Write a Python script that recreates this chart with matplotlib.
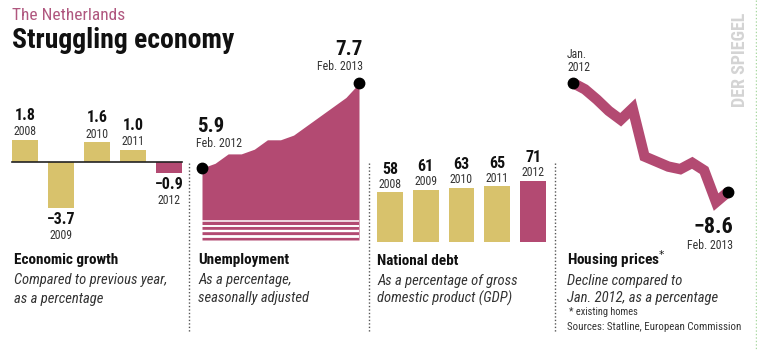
import matplotlib
matplotlib.use("Agg")
import matplotlib.pyplot as plt
from matplotlib import font_manager
from matplotlib.lines import Line2D

# шрифт: узкий, если есть
FONT = "DejaVu Sans"
for name in ["Liberation Sans Narrow", "Roboto Condensed", "Roboto"]:
    try:
        font_manager.findfont(font_manager.FontProperties(family=name), fallback_to_default=False)
        FONT = name
        break
    except Exception:
        pass
plt.rcParams["font.family"] = [FONT, "DejaVu Sans"]

GOLD = "#d8c26c"
PINK = "#b34a72"
TXT = "#111111"

# данные
growth_years = ["2008", "2009", "2010", "2011", "2012"]
growth = [1.8, -3.7, 1.6, 1.0, -0.9]

unemp_months = ["Feb. 2012", "Mar", "Apr", "May", "Jun", "Jul", "Aug", "Sep", "Oct", "Nov", "Dec", "Jan", "Feb. 2013"]
unemp = [5.9, 6.0, 6.2, 6.2, 6.3, 6.5, 6.5, 6.6, 6.8, 7.0, 7.2, 7.4, 7.7]

debt_years = ["2008", "2009", "2010", "2011", "2012"]
debt = [58, 61, 63, 65, 71]

house_months = ["Jan. 2012", "Feb", "Mar", "Apr", "May", "Jun", "Jul", "Aug", "Sep", "Oct", "Nov", "Dec", "Jan", "Feb. 2013"]
house = [0, -0.5, -1.3, -2.2, -2.9, -2.0, -5.8, -6.2, -6.6, -6.8, -6.3, -6.9, -9.4, -8.6]

W, H = 757, 351
fig = plt.figure(figsize=(W / 100, H / 100), dpi=100)
fig.patch.set_facecolor("white")


def px_axes(x0, y0, x1, y1):
    ax = fig.add_axes([x0 / W, 1 - y1 / H, (x1 - x0) / W, (y1 - y0) / H])
    ax.axis("off")
    return ax


def ftext(x, y, s, **kw):
    kw.setdefault("color", TXT)
    kw.setdefault("va", "baseline")
    fig.text(x / W, 1 - y / H, s, **kw)


def vdots(x, y0, y1, color="#555555"):
    fig.add_artist(Line2D([x / W, x / W], [1 - y0 / H, 1 - y1 / H], transform=fig.transFigure,
                          color=color, lw=1, linestyle=(0, (1, 1.5))))


def fmt(v):
    return f"{v:.1f}".replace("-", "\u2212")


# заголовок
ftext(12, 20, "The Netherlands", color="#b0577f", fontsize=12.5)
ftext(12, 48, "Struggling economy", fontsize=20, fontweight="bold")

# экономический рост
ax1 = px_axes(7, 100, 187, 250)
ax1.set_xlim(-0.5, 4.5)
ax1.set_ylim(-(250 - 162) / 12.5, (162 - 100) / 12.5)
cols = [PINK if y == "2012" else GOLD for y in growth_years]
ax1.bar(range(len(growth)), growth, width=0.7, color=cols)
ax1.axhline(0, xmin=0.028, xmax=0.97, color="#222222", lw=1.2)
for i, v in enumerate(growth):
    if v >= 0:
        off_v, off_y = 24, 8
    else:
        off_v, off_y = -11, -27
    ax1.annotate(fmt(v), (i, v), xytext=(0, off_v), textcoords="offset pixels",
                 ha="center", va="center", fontsize=11.5, fontweight="bold", color=TXT)
    ax1.annotate(growth_years[i], (i, v), xytext=(0, off_y), textcoords="offset pixels",
                 ha="center", va="center", fontsize=8.5, color="#333333")

ftext(14, 264, "Economic growth", fontsize=11, fontweight="bold")
ftext(14, 284, "Compared to previous year,", fontsize=10.5, style="italic", color="#333333")
ftext(14, 303, "as a percentage", fontsize=10.5, style="italic", color="#333333")

# безработица
ax2 = px_axes(202, 75, 359, 242)
ax2.set_xlim(0, len(unemp) - 1)
ax2.set_ylim(5.9 - 74 / 47, 5.9 + 93 / 47)
xs = list(range(len(unemp)))
ax2.fill_between(xs, unemp, 5.9 - 72 / 47, color=PINK, lw=0)
for lvl, lw in [(4.772, 1.1), (4.666, 1.4), (4.549, 1.7), (4.443, 2.0)]:
    ax2.axhline(lvl, color="white", lw=lw)
ax2.plot([xs[0], xs[-1]], [unemp[0], unemp[-1]], "o", color="black", ms=7.5, clip_on=False, zorder=5)
ax2.annotate(fmt(unemp[0]), (xs[0], unemp[0]), xytext=(-5, 36), textcoords="offset pixels",
             ha="left", va="baseline", fontsize=15, fontweight="bold", color=TXT)
ax2.annotate(unemp_months[0], (xs[0], unemp[0]), xytext=(-6, 21), textcoords="offset pixels",
             ha="left", va="baseline", fontsize=8.5, color="#333333")
ax2.annotate(fmt(unemp[-1]), (xs[-1], unemp[-1]), xytext=(4, 28), textcoords="offset pixels",
             ha="right", va="baseline", fontsize=15, fontweight="bold", color=TXT)
ax2.annotate(unemp_months[-1], (xs[-1], unemp[-1]), xytext=(4, 13), textcoords="offset pixels",
             ha="right", va="baseline", fontsize=8.5, color="#333333")

ftext(198, 264, "Unemployment", fontsize=11, fontweight="bold")
ftext(198, 284, "As a percentage,", fontsize=10.5, style="italic", color="#333333")
ftext(198, 302, "seasonally adjusted", fontsize=10.5, style="italic", color="#333333")

# госдолг
ax3 = px_axes(372, 150, 551, 242)
ax3.set_xlim(-0.5, 4.5)
ax3.set_ylim(0, 92 / 0.86)
cols = [PINK if y == "2012" else GOLD for y in debt_years]
ax3.bar(range(len(debt)), debt, width=0.72, color=cols)
for i, v in enumerate(debt):
    ax3.annotate(str(v), (i, v), xytext=(0, 23), textcoords="offset pixels",
                 ha="center", va="center", fontsize=11.5, fontweight="bold", color=TXT)
    ax3.annotate(debt_years[i], (i, v), xytext=(0, 8), textcoords="offset pixels",
                 ha="center", va="center", fontsize=8.5, color="#333333")

ftext(377, 265, "National debt", fontsize=11, fontweight="bold")
ftext(377, 285, "As a percentage of gross", fontsize=10.5, style="italic", color="#333333")
ftext(377, 303, "domestic product (GDP)", fontsize=10.5, style="italic", color="#333333")

# цены на жильё
ax4 = px_axes(573, 75, 728, 215)
ax4.set_xlim(0, len(house) - 1)
ax4.set_ylim(-(215 - 83) / 12.67, 8 / 12.67)
hx = list(range(len(house)))
ax4.plot(hx, house, color=PINK, lw=7.5, solid_joinstyle="miter", solid_capstyle="butt", clip_on=False)
ax4.plot([hx[0], hx[-1]], [house[0], house[-1]], "o", color="black", ms=7.5, clip_on=False, zorder=5)
ax4.annotate("Jan.", (hx[0], house[0]), xytext=(-6, 25), textcoords="offset pixels",
             ha="left", va="baseline", fontsize=8.5, color="#333333")
ax4.annotate("2012", (hx[0], house[0]), xytext=(-6, 12), textcoords="offset pixels",
             ha="left", va="baseline", fontsize=8.5, color="#333333")
ax4.annotate(fmt(house[-1]), (hx[-1], house[-1]), xytext=(5, -41), textcoords="offset pixels",
             ha="right", va="baseline", fontsize=16, fontweight="bold", color=TXT)
ax4.annotate(house_months[-1], (hx[-1], house[-1]), xytext=(5, -57), textcoords="offset pixels",
             ha="right", va="baseline", fontsize=8.5, color="#333333")

ftext(567, 265, "Housing prices$^{*}$", fontsize=11, fontweight="bold")
ftext(567, 285, "Decline compared to", fontsize=10.5, style="italic", color="#333333")
ftext(567, 302, "Jan. 2012, as a percentage", fontsize=10.5, style="italic", color="#333333")
ftext(569, 315, "* existing homes", fontsize=7.5, color="#333333")
ftext(567, 330, "Sources: Statline, European Commission", fontsize=7.8, color="#333333")

# разделители
for x in [189, 369, 555]:
    vdots(x, 163, 332)
vdots(756, 0, 351, color="#a8d8a0")
ftext(740, 60, "DER SPIEGEL", fontsize=13, fontweight="bold", color="#d4d4d4",
      rotation=90, ha="center", va="center")

fig.savefig("out.png", dpi=100, facecolor="white")
